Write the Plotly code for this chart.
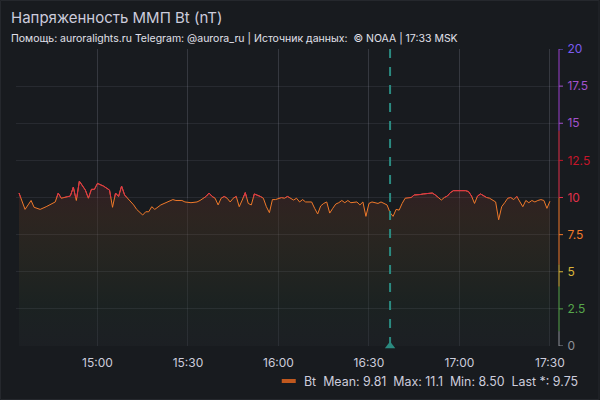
import plotly.graph_objects as go

DAY = "2024-01-01 "
times = ["14:34","14:36","14:37","14:38","14:39","14:40","14:41","14:43","14:44","14:46",
         "14:47","14:48","14:50","14:51","14:52","14:53","14:54","14:55","14:56","14:57",
         "14:58","14:59","15:00","15:02","15:04","15:05","15:06","15:07","15:08","15:09",
         "15:10","15:12","15:13","15:15","15:16","15:17","15:18","15:19","15:21","15:22",
         "15:23","15:25","15:26","15:28","15:29","15:31","15:33","15:34","15:36","15:37",
         "15:38","15:39","15:40","15:41","15:42","15:43","15:44","15:45","15:46","15:47",
         "15:48","15:49","15:50","15:51","15:52","15:53","15:54","15:55","15:56","15:57",
         "15:58","15:59","16:00","16:01","16:02","16:03","16:05","16:06","16:07","16:08",
         "16:09","16:10","16:11","16:12","16:13","16:14","16:15","16:16","16:17","16:18",
         "16:19","16:20","16:21","16:22","16:23","16:24","16:26","16:27","16:28","16:29",
         "16:30","16:31","16:33","16:34","16:35","16:36","16:37","16:38","16:39","16:40",
         "16:41","16:42","16:44","16:45","16:47","16:48","16:51","16:52","16:54","16:55",
         "16:56","16:57","16:58","17:00","17:02","17:03","17:04","17:05","17:06","17:07",
         "17:09","17:10","17:12","17:13","17:14","17:15","17:16","17:17","17:18","17:19",
         "17:20","17:21","17:22","17:23","17:24","17:25","17:26","17:27","17:28","17:29",
         "17:30"]
bt = [10.3, 9.2, 9.5, 9.8, 9.34, 9.27, 9.2, 9.38, 9.5, 9.7,
      10.3, 9.95, 10.05, 10.1, 10.7, 9.8, 11.1, 10.8, 10.5, 9.95,
      10.55, 10.55, 10.95, 10.77, 10.5, 9.34, 10.3, 10.07, 10.77, 10.17,
      9.95, 9.5, 9.2, 8.82, 9.04, 9.04, 9.38, 9.2, 9.5, 9.6,
      9.7, 9.86, 9.8, 9.8, 9.7, 9.65, 9.7, 9.8, 10.07, 10.3,
      10.07, 9.95, 9.5, 9.95, 10.07, 9.95, 9.7, 9.95, 10.07, 9.38,
      9.83, 10.33, 9.6, 9.5, 10.24, 10.17, 10.07, 9.95, 9.38, 8.98,
      9.86, 9.86, 9.95, 9.99, 9.95, 10.07, 9.83, 9.95, 9.7, 9.86,
      9.7, 9.7, 9.7, 9.27, 8.89, 9.43, 9.6, 9.7, 8.95, 9.27,
      9.56, 9.65, 9.8, 9.65, 9.8, 9.65, 9.7, 9.5, 9.7, 8.73,
      9.6, 9.7, 9.6, 9.7, 9.6, 9.5, 8.98, 8.73, 9.2, 9.15,
      9.6, 9.95, 10.0, 10.17, 10.2, 10.24, 10.3, 10.17, 9.83, 10.0,
      10.1, 10.33, 10.46, 10.46, 10.46, 10.4, 10.1, 9.6, 10.1, 10.24,
      10.0, 9.95, 9.7, 8.5, 9.38, 9.65, 9.95, 10.0, 9.86, 10.07,
      9.7, 9.38, 9.8, 9.65, 9.8, 9.7, 9.8, 9.86, 9.8, 9.27,
      9.75]

x_tick_labels = ["15:00", "15:30", "16:00", "16:30", "17:00", "17:30"]
y_ticks = [0, 2.5, 5, 7.5, 10, 12.5, 15, 17.5, 20]
y_tick_labels = ["0", "2.5", "5", "7.5", "10", "12.5", "15", "17.5", "20"]
y_tick_colors = ["#8e9199", "#56a64b", "#d9b53a", "#f0792a", "#e0304a", "#c4162a",
                 "#a352cc", "#a352cc", "#7b5cf0"]
axis_bands = [(0, 1, "#8e9199"), (1, 4, "#56a64b"), (4, 5.5, "#d9b53a"),
              (5.5, 10, "#f0792a"), (10, 14.5, "#e0304a"), (14.5, 20, "#9a40d0")]
marker_time = "16:37"
title = "Напряженность ММП Bt (nT)"
subtitle = "Помощь: auroralights.ru Telegram: @aurora_ru | Источник данных:  © NOAA | 17:33 MSK"
legend_text = "Bt\u00a0\u00a0Mean: 9.81\u00a0\u00a0Max: 11.1\u00a0\u00a0Min: 8.50\u00a0\u00a0Last *: 9.75"

W, H = 600, 400
ML, MR, MT, MB = 16, 40.5, 49, 54
PW, PH = W - ML - MR, H - MT - MB

def px_x(p):
    return (p - ML) / PW

def px_y(p):
    return (H - MB - p) / PH

xs = [DAY + t for t in times]
TXT = "#ccccdc"
FONT = "Inter"

fig = go.Figure()
fig.add_trace(go.Scatter(
    x=xs, y=bt, mode="lines", line=dict(color="#f0792a", width=1),
    fill="tozeroy",
    fillgradient=dict(type="vertical", start=0, stop=11,
                      colorscale=[[0, "rgba(150,160,170,0.03)"],
                                  [0.25, "rgba(86,166,75,0.05)"],
                                  [0.5, "rgba(217,181,58,0.06)"],
                                  [0.8, "rgba(240,121,42,0.10)"],
                                  [1, "rgba(224,48,74,0.12)"]]),
    hoverinfo="skip", showlegend=False))
fig.add_trace(go.Scatter(
    x=xs, y=bt, mode="lines", line=dict(color="#e0304a", width=1),
    xaxis="x", yaxis="y2", hoverinfo="skip", showlegend=False))
fig.add_trace(go.Scatter(
    x=[DAY + marker_time], y=[0], mode="markers",
    marker=dict(symbol="triangle-up", size=9, color="#2b8a80"),
    cliponaxis=False, hoverinfo="skip", showlegend=False))

shapes = [dict(type="rect", xref="paper", yref="paper",
               x0=px_x(0.5), x1=px_x(W - 0.5), y0=px_y(H - 0.5), y1=px_y(0.5),
               line=dict(color="#25282d", width=1), layer="below"),
          dict(type="line", xref="x", yref="paper", x0=DAY + marker_time,
               x1=DAY + marker_time, y0=0, y1=1,
               line=dict(color="#2b8a80", width=2, dash="dash"))]
for a, b, c in axis_bands:
    shapes.append(dict(type="line", xref="paper", yref="y", x0=1, x1=1, y0=a, y1=b,
                       line=dict(color=c, width=1)))
for v, c in zip(y_ticks, y_tick_colors):
    shapes.append(dict(type="line", xref="paper", yref="y", x0=1, x1=1 + 4 / PW,
                       y0=v, y1=v, line=dict(color=c, width=1)))
shapes.append(dict(type="line", xref="paper", yref="paper",
                   x0=px_x(282), x1=px_x(296), y0=px_y(381), y1=px_y(381),
                   line=dict(color="#c0581e", width=4)))

fig.update_layout(
    width=W, height=H, margin=dict(l=ML, r=MR, t=MT, b=MB, autoexpand=False),
    paper_bgcolor="#181b1f", plot_bgcolor="rgba(0,0,0,0)",
    font=dict(family=FONT, color=TXT, size=12),
    hovermode=False, dragmode=False,
    xaxis=dict(type="date", range=[DAY + "14:33", DAY + "17:33"],
               tickvals=[DAY + t for t in x_tick_labels], ticktext=x_tick_labels,
               showgrid=True, gridcolor="rgba(204,204,220,0.09)", gridwidth=1,
               zeroline=False, showline=False, ticks="", ticklabelstandoff=8,
               tickfont=dict(size=12, color=TXT), anchor="y", automargin=False),
    yaxis=dict(range=[0, 20], side="right", tickvals=y_ticks,
               ticktext=[f"<span style='color:{c}'>{t}</span>" for t, c in zip(y_tick_labels, y_tick_colors)],
               showgrid=True, gridcolor="rgba(204,204,220,0.09)", zeroline=False,
               showline=False, ticks="outside", ticklen=5, tickcolor="rgba(0,0,0,0)",
               tickfont=dict(size=12), automargin=False),
    yaxis2=dict(domain=[0.5, 1], range=[10, 20], anchor="x", visible=False,
                showgrid=False, automargin=False),
    shapes=shapes,
    annotations=[
        dict(text=title, xref="paper", yref="paper", x=px_x(9), y=px_y(18),
             xanchor="left", yanchor="middle", showarrow=False,
             font=dict(size=15, color=TXT, family=FONT)),
        dict(text=subtitle, xref="paper", yref="paper", x=px_x(9), y=px_y(39),
             xanchor="left", yanchor="middle", showarrow=False,
             font=dict(size=10.5, color="#e0e0ea", family=FONT)),
        dict(text=legend_text, xref="paper", yref="paper", x=px_x(581), y=px_y(381),
             xanchor="right", yanchor="middle", showarrow=False,
             font=dict(size=12.4, color=TXT, family=FONT)),
    ],
)
fig.write_html(
    "out.html",
    config={"displayModeBar": False, "staticPlot": True},
    post_script="document.body.style.margin='0';"
                "document.body.style.overflow='hidden';"
                "document.body.style.background='#181b1f';",
)
